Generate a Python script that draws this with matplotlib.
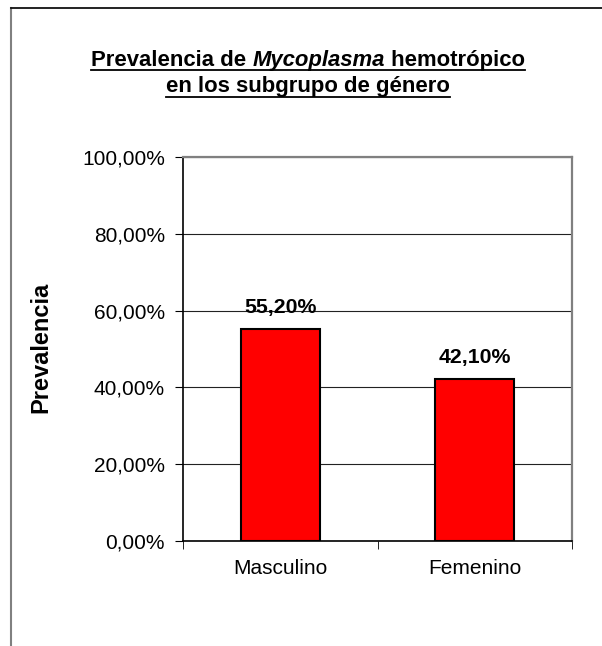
import numpy as np
import matplotlib
matplotlib.use('Agg')
import matplotlib.pyplot as plt
from matplotlib.lines import Line2D

plt.rcParams['font.family'] = ['Liberation Sans', 'DejaVu Sans']

categories = ['Masculino', 'Femenino']
prevalence = [55.20, 42.10]
yticks = [0, 20, 40, 60, 80, 100]
title_line1 = ['Prevalencia de ', 'Mycoplasma', ' hemotrópico']
title_line2 = 'en los subgrupo de género'

fig = plt.figure(figsize=(6.02, 6.46), dpi=100)
W, H = fig.bbox.width, fig.bbox.height

# outer chart frame (only top and left edges fall inside the picture)
fig.lines.append(Line2D([11/W, 11/W], [0, (H - 8)/H],
                        transform=fig.transFigure, color='#808080', linewidth=1.5))
fig.lines.append(Line2D([11/W, 1.0], [(H - 8)/H, (H - 8)/H],
                        transform=fig.transFigure, color='#111111', linewidth=1.3))

ax = fig.add_axes([183/602, 105/646, 389/602, 384/646])
x = np.arange(len(categories)) + 0.5
ax.bar(x, prevalence, width=0.405, color='#ff0000', edgecolor='black', linewidth=1.5, zorder=3)
for xi, v in zip(x, prevalence):
    ax.text(xi, v + 4.2, ('%.2f%%' % v).replace('.', ','), ha='center', va='baseline',
            fontsize=15.3, fontweight='bold')

ax.set_xlim(0, 2)
ax.set_ylim(0, 100)
ax.set_yticks(yticks)
ax.set_yticklabels([('%.2f%%' % t).replace('.', ',') for t in yticks], fontsize=15)
ax.yaxis.grid(True, color='#222222', linewidth=0.8)
ax.set_axisbelow(True)
ax.set_xticks(x)
ax.set_xticklabels(categories, fontsize=15)
ax.tick_params(axis='x', length=0, pad=13)
ax.set_xticks([0, 1, 2], minor=True)
ax.tick_params(axis='x', which='minor', length=6, direction='out', color='black')
ax.tick_params(axis='y', length=6, direction='out', pad=7)
for s in ['left', 'bottom']:
    ax.spines[s].set_color('black')
    ax.spines[s].set_linewidth(1.2)
for s in ['top', 'right']:
    ax.spines[s].set_color('#808080')
    ax.spines[s].set_linewidth(1.6)
ax.set_ylabel('Prevalencia', fontsize=17, fontweight='bold')
ax.yaxis.set_label_coords((52 - 183) / 389, (541 - 347.5) / 384)

# underlined title, built from pieces
fig.canvas.draw()
r = fig.canvas.get_renderer()
fs = 15.9
styles = ['normal', 'italic', 'normal']
pieces = []
for txt, st in zip(title_line1, styles):
    t = fig.text(0, 0, txt, fontsize=fs, fontweight='bold', style=st, ha='left', va='baseline')
    pieces.append(t)
widths = [p.get_window_extent(r).width for p in pieces]
total = sum(widths)
cx = 308
x0 = cx - total / 2
base1 = H - 66
for p, w in zip(pieces, widths):
    p.set_position((x0 / W, base1 / H))
    x0 += w
fig.lines.append(Line2D([(cx - total/2)/W, (cx + total/2)/W], [(base1 - 4)/H]*2,
                        transform=fig.transFigure, color='black', linewidth=1.3))
t2 = fig.text(cx/W, (H - 92)/H, title_line2, fontsize=fs, fontweight='bold', ha='center', va='baseline')
w2 = t2.get_window_extent(r).width
fig.lines.append(Line2D([(cx - w2/2)/W, (cx + w2/2)/W], [(H - 97)/H]*2,
                        transform=fig.transFigure, color='black', linewidth=1.3))

fig.savefig('out.png', dpi=100)
